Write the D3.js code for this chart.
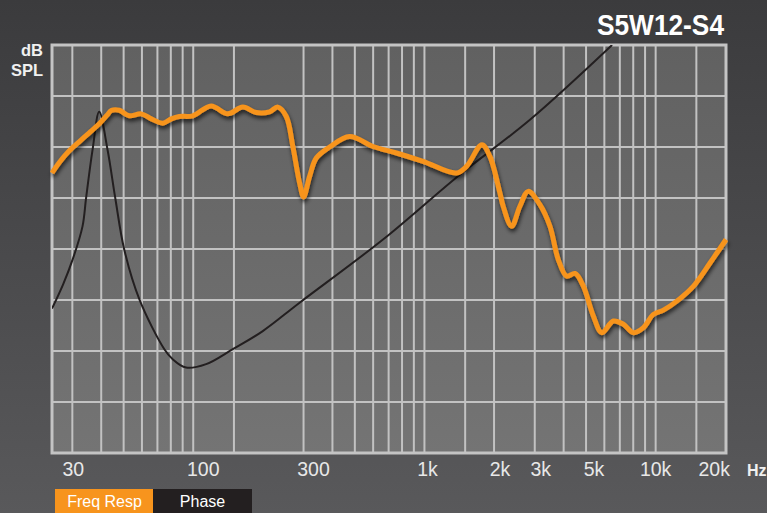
<!DOCTYPE html>
<html>
<head>
<meta charset="utf-8">
<script src="https://cdn.jsdelivr.net/npm/d3@7"></script>
<style>
  html, body { margin: 0; padding: 0; background: #3c3c3e; }
  svg { display: block; }
  text { font-family: "Liberation Sans", Arial, Helvetica, sans-serif; }
</style>
</head>
<body>
<script>
// ---------------- data ----------------
const title = "S5W12-S4";

const respFreq = [24.5, 26.3, 29.1, 32.1, 35.5, 39.2, 42.5, 44.2, 47.9, 52.9, 59.5, 65.9, 73.8, 80.4, 87.1, 99.5,
  119.5, 141, 163.8, 187.2, 213.7, 232.2, 252.6, 269.7, 288.4, 300.1, 318.7, 340.6, 388.9, 474.8, 599, 756.6,
  986, 1376, 1521, 1772, 1919, 2120, 2191, 2382, 2588, 2811, 3158, 3490, 3792, 4124, 4479, 4866, 5376, 5847,
  6561, 7252, 8013, 8851, 9777, 10804, 12350, 14575, 17216, 20150];
const respDb = [97.45, 98.46, 99.63, 100.51, 101.39, 102.27, 103.15, 103.57, 103.6, 103.06, 103.25, 102.76, 102.34, 102.76, 102.99, 103.06,
  104.03, 103.25, 103.91, 103.38, 103.45, 103.91, 102.99, 100.05, 96.47, 95.1, 97.12, 98.92, 100.0, 101.03, 100.05, 99.41,
  98.59, 97.45, 98.1, 100.22, 99.08, 95.5, 94.19, 92.23, 94.19, 95.65, 94.35, 92.23, 88.97, 87.34, 87.6, 86.36, 83.43, 81.8,
  82.94, 82.62, 81.8, 82.29, 83.59, 84.01, 84.89, 86.36, 88.65, 90.93];

const phaseFreq = [24.5, 27.4, 30.1, 33.2, 34.4, 36.7, 39.2, 42.6, 46.0, 50.3, 58.5, 75.0, 81.5, 93.1, 113.7, 148.3, 199.9, 288.4, 661.8, 1422, 2859, 6478];
const phaseDeg = [-26.3, -15.5, -4.6, 10.0, 22.5, 43.8, 60.5, 43.8, 22.5, -0.2, -22.2, -44.2, -48.6, -52.3, -50.8, -44.2, -36.2, -23.7, 4.2, 32.8, 57, 90];

const gridFreqs = [30, 40, 50, 60, 70, 80, 90, 100, 150, 300, 400, 500, 600, 700, 800, 900, 1000,
  1500, 2000, 3000, 4000, 5000, 6000, 7000, 8000, 9000, 10000, 15000];
const dbLevels = [70, 75, 80, 85, 90, 95, 100, 105, 110];

const tickFreqs = [30, 100, 300, 1000, 2000, 3000, 5000, 10000, 20000];
const tickText = ["30", "100", "300", "1k", "2k", "3k", "5k", "10k", "20k"];

const legendLabels = ["Freq Resp", "Phase"];

// ---------------- layout ----------------
const W = 767, H = 513;
const plot = { left: 52, top: 45, right: 726, bottom: 453 };
const labelDx = [1, 10, 10, 3, 6, 6, 8, 0, -11];
const ORANGE = "#f7941d", BLACK = "#231f20";

const x = d3.scaleLog().domain([24.5, 20150]).range([plot.left, plot.right]);
const y = d3.scaleLinear().domain([70, 110]).range([plot.bottom, plot.top]);
const yPhase = d3.scaleLinear().domain([-90, 90]).range([plot.bottom, plot.top]);

const svg = d3.select("body").append("svg").attr("width", W).attr("height", H);
const defs = svg.append("defs");

const bg = defs.append("linearGradient").attr("id", "bg").attr("x1", 0).attr("y1", 0).attr("x2", 0).attr("y2", 1);
bg.append("stop").attr("offset", "0%").attr("stop-color", "#3b3b3d");
bg.append("stop").attr("offset", "100%").attr("stop-color", "#59595b");

const pg = defs.append("linearGradient").attr("id", "pg").attr("x1", 0).attr("y1", 0).attr("x2", 0).attr("y2", 1);
pg.append("stop").attr("offset", "0%").attr("stop-color", "#616161");
pg.append("stop").attr("offset", "100%").attr("stop-color", "#747474");

const sh = defs.append("filter").attr("id", "shadow").attr("x", "-10%").attr("y", "-10%").attr("width", "120%").attr("height", "130%");
sh.append("feGaussianBlur").attr("in", "SourceAlpha").attr("stdDeviation", 2).attr("result", "b");
sh.append("feOffset").attr("in", "b").attr("dx", 1).attr("dy", 3).attr("result", "o");
sh.append("feComponentTransfer").attr("in", "o").attr("result", "o2")
  .append("feFuncA").attr("type", "linear").attr("slope", 0.7);
const fm = sh.append("feMerge");
fm.append("feMergeNode").attr("in", "o2");
fm.append("feMergeNode").attr("in", "SourceGraphic");

defs.append("clipPath").attr("id", "clip").append("rect")
  .attr("x", plot.left).attr("y", plot.top)
  .attr("width", plot.right - plot.left).attr("height", plot.bottom - plot.top);

svg.append("rect").attr("width", W).attr("height", H).attr("fill", "url(#bg)");

svg.append("rect").attr("x", plot.left).attr("y", plot.top)
  .attr("width", plot.right - plot.left).attr("height", plot.bottom - plot.top)
  .attr("fill", "url(#pg)");

// grid
const grid = svg.append("g").attr("stroke", "#c2c2c2").attr("stroke-width", 2);
grid.selectAll("line.v").data(gridFreqs).join("line").attr("class", "v")
  .attr("x1", d => x(d)).attr("x2", d => x(d)).attr("y1", plot.top).attr("y2", plot.bottom);
grid.selectAll("line.h").data(dbLevels).join("line").attr("class", "h")
  .attr("x1", plot.left).attr("x2", plot.right).attr("y1", d => y(d)).attr("y2", d => y(d));

svg.append("rect").attr("x", plot.left).attr("y", plot.top)
  .attr("width", plot.right - plot.left).attr("height", plot.bottom - plot.top)
  .attr("fill", "none").attr("stroke", "#c4c4c4").attr("stroke-width", 3);

// curves
const gCurves = svg.append("g").attr("clip-path", "url(#clip)");
const phaseLine = d3.line().x(d => x(d[0])).y(d => yPhase(d[1])).curve(d3.curveCatmullRom.alpha(0.5));
const respLine = d3.line().x(d => x(d[0])).y(d => y(d[1])).curve(d3.curveCatmullRom.alpha(0.5));

gCurves.append("path").datum(phaseFreq.map((f, i) => [f, phaseDeg[i]]))
  .attr("d", phaseLine).attr("fill", "none").attr("stroke", BLACK).attr("stroke-width", 2);

svg.append("path").datum(respFreq.map((f, i) => [f, respDb[i]]))
  .attr("d", respLine).attr("fill", "none").attr("stroke", ORANGE).attr("stroke-width", 5)
  .attr("stroke-linejoin", "round").attr("stroke-linecap", "butt").attr("filter", "url(#shadow)");

// x tick labels
svg.append("g").selectAll("text").data(tickFreqs).join("text")
  .attr("x", (d, i) => x(d) + labelDx[i]).attr("y", 476)
  .attr("text-anchor", "middle").attr("fill", "#e8e8e8").attr("font-size", 19.5)
  .text((d, i) => tickText[i]);

svg.append("text").attr("x", 747).attr("y", 476).attr("fill", "#f0f0f0")
  .attr("font-size", 16).attr("font-weight", "bold").text("Hz");

// y label
svg.append("text").attr("x", 43).attr("y", 56).attr("text-anchor", "end").attr("fill", "#f0f0f0")
  .attr("font-size", 16.5).attr("font-weight", "bold").text("dB");
svg.append("text").attr("x", 43).attr("y", 76).attr("text-anchor", "end").attr("fill", "#f0f0f0")
  .attr("font-size", 16.5).attr("font-weight", "bold").text("SPL");

// title
svg.append("text").attr("x", 597).attr("y", 35).attr("fill", "#ffffff")
  .attr("font-size", 30).attr("font-weight", "bold")
  .attr("textLength", 127).attr("lengthAdjust", "spacingAndGlyphs").text(title);

// legend
const legX = [55, 153], legW = 99;
const leg = svg.append("g");
leg.selectAll("rect").data(legendLabels).join("rect")
  .attr("x", (d, i) => legX[i]).attr("y", 489).attr("width", legW).attr("height", 26)
  .attr("fill", (d, i) => i === 0 ? ORANGE : BLACK);
leg.selectAll("text").data(legendLabels).join("text")
  .attr("x", (d, i) => legX[i] + legW / 2).attr("y", 507)
  .attr("text-anchor", "middle").attr("fill", "#ffffff").attr("font-size", 16)
  .text(d => d);
</script>
</body>
</html>
